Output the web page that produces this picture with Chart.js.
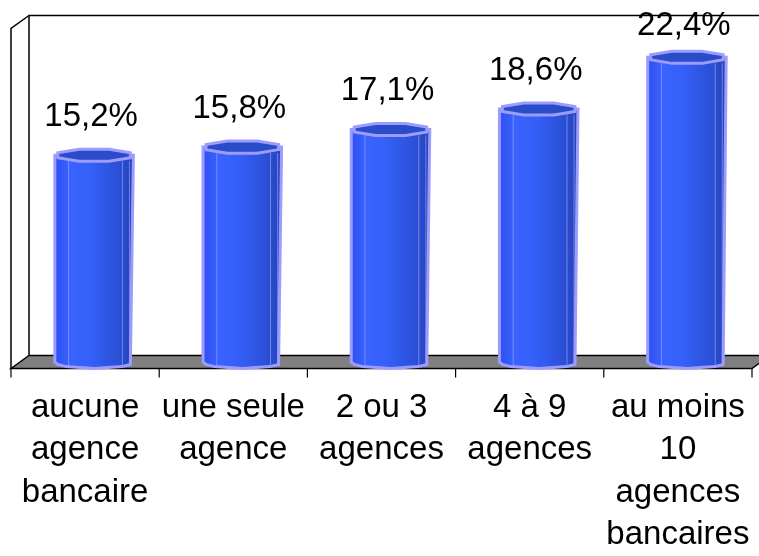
<!DOCTYPE html>
<html>
<head>
<meta charset="utf-8">
<script src="https://cdn.jsdelivr.net/npm/chart.js@4/dist/chart.umd.min.js"></script>
<style>
  html, body { margin: 0; padding: 0; background: #fff; }
  #wrap { width: 759px; height: 556px; }
</style>
</head>
<body>
<div id="wrap"><canvas id="chart"></canvas></div>
<script>
// donnees
const categories = [
  ["aucune", "agence", "bancaire"],
  ["une seule", "agence"],
  ["2 ou 3", "agences"],
  ["4 à 9", "agences"],
  ["au moins", "10", "agences", "bancaires"]
];
const values = [15.2, 15.8, 17.1, 18.6, 22.4];
const yMin = 0;
const yMax = 25;

// profondeur du faux 3D (demi-profondeur)
const DX = 9;
const DY = 6.5;
const FONT = "'Liberation Sans', Arial, sans-serif";

function octagon(ctx, cx, cy, rx, ry) {
  ctx.beginPath();
  for (let k = 0; k < 8; k++) {
    const a = Math.PI / 8 + k * Math.PI / 4;
    const px = cx + rx * Math.cos(a);
    const py = cy + ry * Math.sin(a);
    if (k === 0) ctx.moveTo(px, py); else ctx.lineTo(px, py);
  }
  ctx.closePath();
}

// murs, sol et cylindres
const wallsPlugin = {
  id: "walls",
  beforeDatasetsDraw(chart) {
    const ctx = chart.ctx;
    const a = chart.chartArea;
    const fl = a.left, fr = a.right;
    const bl = a.left + 2 * DX;
    const frontBottom = a.bottom + DY, backBottom = a.bottom - DY;
    const frontTop = a.top + DY, backTop = a.top - DY;
    ctx.save();
    ctx.strokeStyle = "#000";
    ctx.lineWidth = 1.5;
    // mur du fond
    ctx.beginPath();
    ctx.moveTo(bl, backBottom);
    ctx.lineTo(bl, backTop);
    ctx.lineTo(chart.width + 5, backTop);
    ctx.stroke();
    // mur de gauche
    ctx.beginPath();
    ctx.moveTo(fl, frontBottom);
    ctx.lineTo(fl, frontTop);
    ctx.lineTo(bl, backTop);
    ctx.stroke();
    // sol
    ctx.fillStyle = "#808080";
    ctx.beginPath();
    ctx.moveTo(fl, frontBottom);
    ctx.lineTo(bl, backBottom);
    ctx.lineTo(fr + 2 * DX, backBottom);
    ctx.lineTo(fr, frontBottom);
    ctx.closePath();
    ctx.fill();
    ctx.stroke();
    // graduations de l'axe des categories
    const n = categories.length;
    const step = (fr - fl) / n;
    ctx.lineWidth = 1.2;
    for (let i = 0; i <= n; i++) {
      const x = fl + i * step;
      ctx.beginPath();
      ctx.moveTo(x, frontBottom);
      ctx.lineTo(x, frontBottom + 9);
      ctx.stroke();
    }
    ctx.restore();
  },
  afterDatasetsDraw(chart) {
    const ctx = chart.ctx;
    const meta = chart.getDatasetMeta(0);
    ctx.save();
    meta.data.forEach((bar, i) => {
      const cx = bar.x + DX;
      const rx = bar.width / 2;
      const top = bar.y, base = bar.base;
      const ry = DY;
      const g = ctx.createLinearGradient(cx - rx, 0, cx + rx, 0);
      g.addColorStop(0, "#2f50f0");
      g.addColorStop(0.2, "#3a62ff");
      g.addColorStop(0.45, "#3560f8");
      g.addColorStop(0.8, "#2b50d8");
      g.addColorStop(1, "#2642b8");
      // corps
      ctx.beginPath();
      ctx.moveTo(cx - rx, top);
      ctx.lineTo(cx - rx, base);
      for (let k = 0; k <= 4; k++) {
        const ang = Math.PI - k * Math.PI / 4;
        const aa = Math.max(Math.PI / 8, Math.min(Math.PI - Math.PI / 8, ang));
        ctx.lineTo(cx + rx * Math.cos(aa), base + ry * Math.sin(aa));
      }
      ctx.lineTo(cx + rx, top);
      ctx.closePath();
      ctx.fillStyle = g;
      ctx.fill();
      ctx.strokeStyle = "#9c9cff";
      ctx.lineWidth = 3;
      ctx.stroke();
      // reflets verticaux
      ctx.strokeStyle = "rgba(150,160,255,0.7)";
      ctx.lineWidth = 1;
      [-0.65, 0.72, 0.9].forEach(f => {
        ctx.beginPath();
        ctx.moveTo(cx + rx * f, top + ry * 0.9);
        ctx.lineTo(cx + rx * f, base + ry * 0.7);
        ctx.stroke();
      });
      // dessus
      octagon(ctx, cx, top, rx, ry);
      ctx.fillStyle = "#2a4cc8";
      ctx.fill();
      ctx.strokeStyle = "#9c9cff";
      ctx.lineWidth = 3;
      ctx.stroke();
      // etiquette
      ctx.fillStyle = "#000";
      ctx.font = "33px " + FONT;
      ctx.textAlign = "center";
      ctx.textBaseline = "alphabetic";
      const ly = Math.max(top - ry - 23, 35);
      ctx.fillText(values[i].toFixed(1).replace(".", ",") + "%", cx - 3, ly);
    });
    ctx.restore();
  }
};

new Chart(document.getElementById("chart"), {
  type: "bar",
  data: {
    labels: categories,
    datasets: [{
      data: values,
      backgroundColor: "rgba(0,0,0,0)",
      borderWidth: 0,
      categoryPercentage: 1,
      barPercentage: 0.53
    }]
  },
  options: {
    responsive: true,
    maintainAspectRatio: false,
    animation: false,
    events: [],
    layout: { padding: { left: 11, right: 7, top: 22, bottom: 0 } },
    plugins: { legend: { display: false }, tooltip: { enabled: false } },
    scales: {
      x: {
        grid: { display: false, drawTicks: false },
        border: { display: false },
        ticks: {
          color: "#000",
          padding: 25,
          maxRotation: 0,
          autoSkip: false,
          font: { family: FONT, size: 33, lineHeight: 1.28 }
        },
        afterFit(scale) {
          scale.height = 194;
          scale.paddingLeft = 0;
          scale.paddingRight = 0;
        }
      },
      y: {
        display: false,
        min: yMin,
        max: yMax
      }
    }
  },
  plugins: [wallsPlugin]
});
</script>
</body>
</html>
